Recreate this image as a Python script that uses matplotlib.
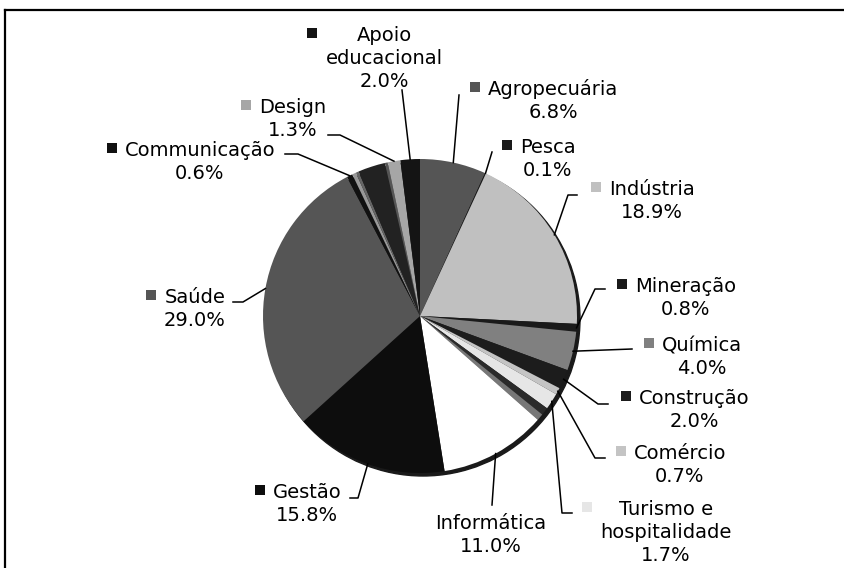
import math
import matplotlib
matplotlib.use("Agg")
import matplotlib.pyplot as plt
from matplotlib.patches import Circle

# slices clockwise from 12 o'clock; empty names are unlabelled slivers
labels = ['Agropecuária', 'Pesca', 'Indústria', 'Mineração', 'Química', 'Construção',
          'Comércio', 'Turismo e\nhospitalidade', '', '', 'Informática', 'Gestão', 'Saúde',
          'Communicação', '', '', '', '', 'Design', 'Apoio\neducacional']
values = [6.8, 0.1, 18.9, 0.8, 4.0, 2.0, 0.7, 1.7, 0.8, 0.7, 11.0, 15.8, 29.0,
          0.6, 0.4, 0.3, 2.8, 0.3, 1.3, 2.0]
colors = ['#555555', '#1a1a1a', '#c0c0c0', '#1a1a1a', '#808080', '#1c1c1c',
          '#c4c4c4', '#e6e6e6', '#2a2a2a', '#777777', '#ffffff', '#0d0d0d', '#555555',
          '#111111', '#999999', '#666666', '#222222', '#555555', '#a6a6a6', '#141414']

# label placement in pixels (text centre x, first baseline, leader points)
layout = {
    'Apoio\neducacional': (384, 41, [(402, 90)]),
    'Agropecuária': (553, 95, [(459, 95)]),
    'Pesca': (548, 153, [(492, 152)]),
    'Indústria': (652, 195, [(577, 195), (568, 195)]),
    'Mineração': (686, 292, [(605, 289), (595, 289)]),
    'Química': (702, 351, [(632, 349)]),
    'Construção': (694, 404, [(608, 404), (598, 404)]),
    'Comércio': (680, 459, [(605, 458), (595, 458)]),
    'Turismo e\nhospitalidade': (666, 515, [(572, 513), (562, 513)]),
    'Informática': (491, 529, [(492, 505)]),
    'Gestão': (307, 498, [(350, 498), (358, 498)]),
    'Saúde': (195, 303, [(233, 302), (243, 302)]),
    'Communicação': (200, 156, [(285, 154), (298, 154)]),
    'Design': (293, 113, [(328, 135), (340, 135)]),
}

W, H = 845, 568
cx, cy, r = 420, 316, 157
line_h = 23

fig = plt.figure(figsize=(W / 100, H / 100), dpi=100)
ax = fig.add_axes([0, 0, 1, 1])

# drop shadow behind the pie
ax.add_patch(Circle((cx + 3, cy + 3), r, color='#1a1a1a', zorder=0))

# y axis runs downward, so start at -90 and go counterclockwise in data terms
wedges, _ = ax.pie(values, colors=colors, startangle=-90, counterclock=True,
                   center=(cx, cy), radius=r, frame=True,
                   wedgeprops=dict(linewidth=0))
for w in wedges:
    w.set_zorder(1)

ax.set_xlim(0, W)
ax.set_ylim(H, 0)
ax.set_aspect('equal')
ax.axis('off')

renderer = fig.canvas.get_renderer()
total = sum(values)
for w, name, v, c in zip(wedges, labels, values, colors):
    if not name:
        continue
    tx, base, lead = layout[name]
    lines = name.split('\n') + [f"{v / total * 100:.1f}%"]
    texts = []
    for i, s in enumerate(lines):
        texts.append(ax.text(tx, base + i * line_h, s, ha='center', va='baseline',
                             fontsize=14, family='DejaVu Sans', color='black', zorder=3))
    # legend key sits just left of the widest line of the label
    if c != '#ffffff':
        left = min(t.get_window_extent(renderer).x0 for t in texts)
        ax.scatter([left - 13], [base - 8], marker='s', s=60, color=c, zorder=3,
                   linewidths=0)
    ang = math.radians((w.theta1 + w.theta2) / 2)
    ex, ey = cx + r * math.cos(ang), cy + r * math.sin(ang)
    xs = [p[0] for p in lead] + [ex]
    ys = [p[1] for p in lead] + [ey]
    ax.plot(xs, ys, color='black', lw=1.1, zorder=2)

# chart area border (top and left edges visible)
ax.plot([5, W], [10, 10], color='black', lw=1.6, zorder=4)
ax.plot([5, 5], [10, H], color='black', lw=1.6, zorder=4)

fig.savefig("out.png", dpi=100)
